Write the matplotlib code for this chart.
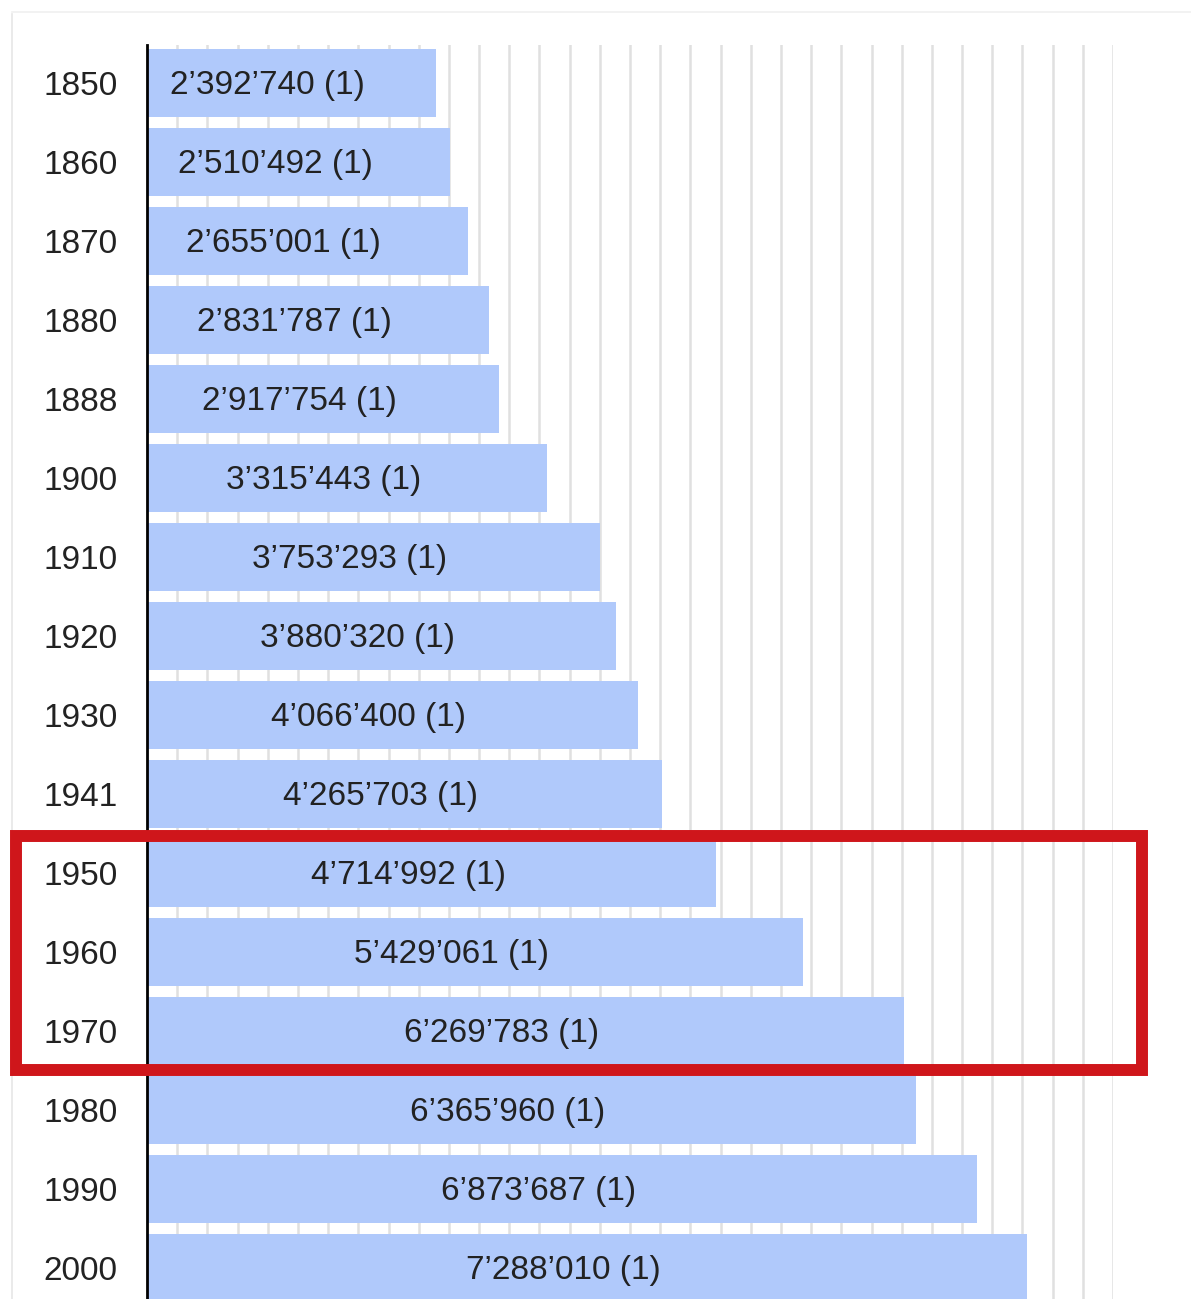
import matplotlib
matplotlib.use("Agg")
import matplotlib.pyplot as plt
from matplotlib.patches import Rectangle
from matplotlib.lines import Line2D

years = ["1850", "1860", "1870", "1880", "1888", "1900", "1910", "1920",
         "1930", "1941", "1950", "1960", "1970", "1980", "1990", "2000"]
population = [2392740, 2510492, 2655001, 2831787, 2917754, 3315443, 3753293, 3880320,
              4066400, 4265703, 4714992, 5429061, 6269783, 6365960, 6873687, 7288010]
footnotes = ["(1)"] * len(years)
highlight = ["1950", "1960", "1970"]

plt.rcParams['font.family'] = ['Liberation Sans', 'DejaVu Sans']

W, H = 1191, 1299
fig = plt.figure(figsize=(W / 100, H / 100), dpi=100)

def fx(px):
    return px / W

def fy(py):
    return 1 - py / H

x0, x1 = 147, 1113
ytop = 45
ax = fig.add_axes([fx(x0), 0, fx(x1) - fx(x0), fy(ytop)])

pitch = 79.0
c0 = 83.0
ax.set_xlim(0, 8_000_000)
ax.set_ylim((H - c0) / pitch, -(c0 - ytop) / pitch)

pos = list(range(len(years)))
ax.barh(pos, population, height=0.86, color='#b0c9fb', zorder=2)

for i, (v, fn) in enumerate(zip(population, footnotes)):
    lab = f"{v:,}".replace(",", "\u2019") + " " + fn
    ax.annotate(lab, xy=(v / 2, i), xytext=(-17, -2), textcoords='offset points',
                ha='center', va='center', fontsize=24, color='#222222', zorder=3)

ax.set_yticks(pos)
ax.set_yticklabels(years, fontsize=24, color='#222222')
ax.tick_params(axis='y', length=0, pad=21)
ax.set_xticks([k * 250_000 for k in range(1, 33)])
ax.tick_params(axis='x', length=0, labelbottom=False)
ax.grid(axis='x', color='#e0e0e0', linewidth=1.8, zorder=1)
ax.set_axisbelow(True)
for s in ['top', 'right', 'bottom']:
    ax.spines[s].set_visible(False)
ax.spines['left'].set_color('black')
ax.spines['left'].set_linewidth(2)
ax.spines['left'].set_zorder(4)

# outer light frame
fig.add_artist(Line2D([fx(12), fx(12)], [fy(14), 0], color='#e6e6e6', linewidth=1.2))
fig.add_artist(Line2D([fx(12), 1], [fy(12), fy(12)], color='#f0f0f0', linewidth=1.2))

# red highlight box around 1950-1970
i_first = years.index(highlight[0])
i_last = years.index(highlight[-1])
top_px = c0 + pitch * (i_first - 0.5) + 2
bot_px = c0 + pitch * (i_last + 0.5) - 1
rect = Rectangle((fx(16), fy(bot_px)), fx(1142) - fx(16), fy(top_px) - fy(bot_px),
                 transform=fig.transFigure, fill=False, edgecolor='#cf161b',
                 linewidth=8.6, zorder=10)
fig.add_artist(rect)

fig.savefig("out.png", dpi=100)
